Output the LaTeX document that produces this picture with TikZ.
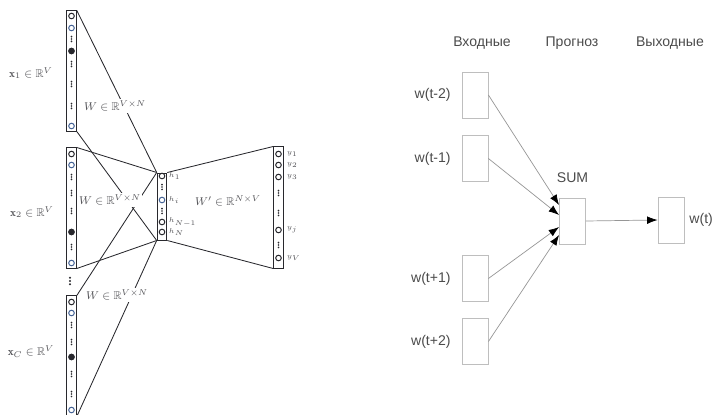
\documentclass[tikz,border=0pt]{standalone}
\usepackage{amssymb}
\usepackage{fontspec}
\newfontfamily\labelfont{Liberation Sans}
\usetikzlibrary{arrows.meta,positioning}
\definecolor{ink}{RGB}{40,40,45}
\definecolor{ringblue}{RGB}{70,100,150}
\definecolor{frame}{RGB}{190,190,190}
\definecolor{arrowgray}{RGB}{150,150,150}
\definecolor{txt}{RGB}{75,75,75}
\tikzset{
  >={Latex[length=2.6mm,width=1.9mm,color=black]},
  layer/.style={draw=ink,line width=0.7pt,minimum width=2.4mm,minimum height=#1,inner sep=0pt},
  ring/.style={circle,draw=#1,line width=0.7pt,minimum size=1.4mm,inner sep=0pt},
  ring/.default=ink,
  bluering/.style={ring=ringblue},
  hot/.style={circle,fill=ink,minimum size=1.7mm,inner sep=0pt},
  vdots/.style={minimum width=1mm,minimum height=2mm,inner sep=0pt,
    path picture={\foreach \d in {-1,0,1}
      \fill[ink] ([yshift=\d*2.7*#1]path picture bounding box.center) circle (#1);}},
  vdots/.default=0.22mm,
  wlabel/.style={fill=white,inner sep=1pt,font=\footnotesize,text=ink!80},
  vlabel/.style={font=\footnotesize,text=ink!80},
  ulabel/.style={font=\tiny,anchor=west,inner sep=0.5pt,text=ink!80},
  link/.style={draw=ink,line width=0.6pt},
  wbox/.style={draw=frame,line width=0.6pt,minimum width=6.5mm,minimum height=11.5mm,inner sep=0pt},
  head/.style={font=\labelfont,text=txt},
  flow/.style={->,draw=arrowgray,line width=0.5pt},
}

\begin{document}
\begin{tikzpicture}[x=0.025cm,y=-0.025cm]
  \useasboundingbox (0,0) rectangle (712,415);
  % CBOW network
  \node[layer=30mm] (x1) at (71.5,71) {};
  \node[layer=30mm] (x2) at (71.5,208) {};
  \node[layer=30mm] (xc) at (71.5,356) {};
  \node[layer=16.75mm] (h) at (162,206.5) {};
  \node[layer=30.25mm] (y) at (278.5,207.5) {};

  \foreach \y/\s in {16/ring,28/bluering,51/hot,126/bluering} \node[\s] (x1-\y) at (71.5,\y) {};
  \foreach \y in {39,64,84,106} \node[vdots] (x1-\y) at (71.5,\y) {};
  \foreach \y/\s in {154/ring,165/bluering,232/hot,263/bluering} \node[\s] (x2-\y) at (71.5,\y) {};
  \foreach \y in {177,193,211,247} \node[vdots] (x2-\y) at (71.5,\y) {};
  \foreach \y/\s in {302/ring,313/bluering,357/hot,410/bluering} \node[\s] (xc-\y) at (71.5,\y) {};
  \foreach \y in {325,342,374,394} \node[vdots] (xc-\y) at (71.5,\y) {};
  \node[vdots=0.3mm,minimum height=3mm] (more) at (70,281) {};

  \foreach \y/\s in {176/ring,200/bluering,222/ring,232/ring} \node[\s] (h-\y) at (162,\y) {};
  \foreach \y in {187,211} \node[vdots] (h-\y) at (162,\y) {};
  \foreach \y in {154,165,177,230,258} \node[ring] (y-\y) at (278.5,\y) {};
  \foreach \y in {193,213,245} \node[vdots] (y-\y) at (278.5,\y) {};

  \foreach \v in {x1,x2,xc} {
    \draw[link] (\v.north east) -- (h.north west);
    \draw[link] (\v.south east) -- (h.south west);
  }
  \draw[link] (h.north east) -- (y.north west);
  \draw[link] (h.south east) -- (y.south west);

  \node[vlabel] (lx1) at (31,73) {$\mathbf{x}_1\in\mathbb{R}^V$};
  \node[vlabel] (lx2) at (32,212) {$\mathbf{x}_2\in\mathbb{R}^V$};
  \node[vlabel] (lxc) at (31,352) {$\mathbf{x}_C\in\mathbb{R}^V$};
  \node[wlabel] (w1) at (115,106) {$W\in\mathbb{R}^{V\times N}$};
  \node[wlabel] (w2) at (110,200) {$W\in\mathbb{R}^{V\times N}$};
  \node[wlabel] (w3) at (117,295) {$W\in\mathbb{R}^{V\times N}$};
  \node[wlabel] (wo) at (228,201) {$W'\in\mathbb{R}^{N\times V}$};

  \node[ulabel] (lh1) at (168,176) {$h_1$};
  \node[ulabel] (lhi) at (168,200) {$h_i$};
  \node[ulabel] (lhn1) at (168,222) {$h_{N-1}$};
  \node[ulabel] (lhn) at (168,232) {$h_N$};
  \node[ulabel] (ly1) at (286,154) {$y_1$};
  \node[ulabel] (ly2) at (286,165) {$y_2$};
  \node[ulabel] (ly3) at (286,177) {$y_3$};
  \node[ulabel] (lyj) at (286,230) {$y_j$};
  \node[ulabel] (lyv) at (286,258) {$y_V$};

  % simplified scheme
  \node[head] (inp) at (482,43) {Входные};
  \node[head] (pred) at (572,43) {Прогноз};
  \node[head] (outp) at (670,43) {Выходные};

  \node[wbox] (wm2) at (475,95) {};
  \node[wbox] (wm1) at (475,158.5) {};
  \node[wbox] (wp1) at (475,278.5) {};
  \node[wbox] (wp2) at (475,341.5) {};
  \node[wbox] (sum) at (572.5,221) {};
  \node[wbox] (wt) at (671,220) {};

  \node[head,left=1.5mm of wm2] (lm2) {w(t-2)};
  \node[head,left=1.5mm of wm1] (lm1) {w(t-1)};
  \node[head,left=1.5mm of wp1] (lp1) {w(t+1)};
  \node[head,left=1.5mm of wp2] (lp2) {w(t+2)};
  \node[head,above=2.5mm of sum] (lsum) {SUM};
  \node[head,inner xsep=0.5pt,right=1mm of wt] (lt) {w(t)};

  \draw[flow] (wm2.east) -- ([yshift=4mm]sum.west);
  \draw[flow] (wm1.east) -- ([yshift=1.5mm]sum.west);
  \draw[flow] (wp1.east) -- ([yshift=-1.5mm]sum.west);
  \draw[flow] (wp2.east) -- ([yshift=-3.5mm]sum.west);
  \draw[flow] (sum.east) -- (wt.west);
\end{tikzpicture}
\end{document}
